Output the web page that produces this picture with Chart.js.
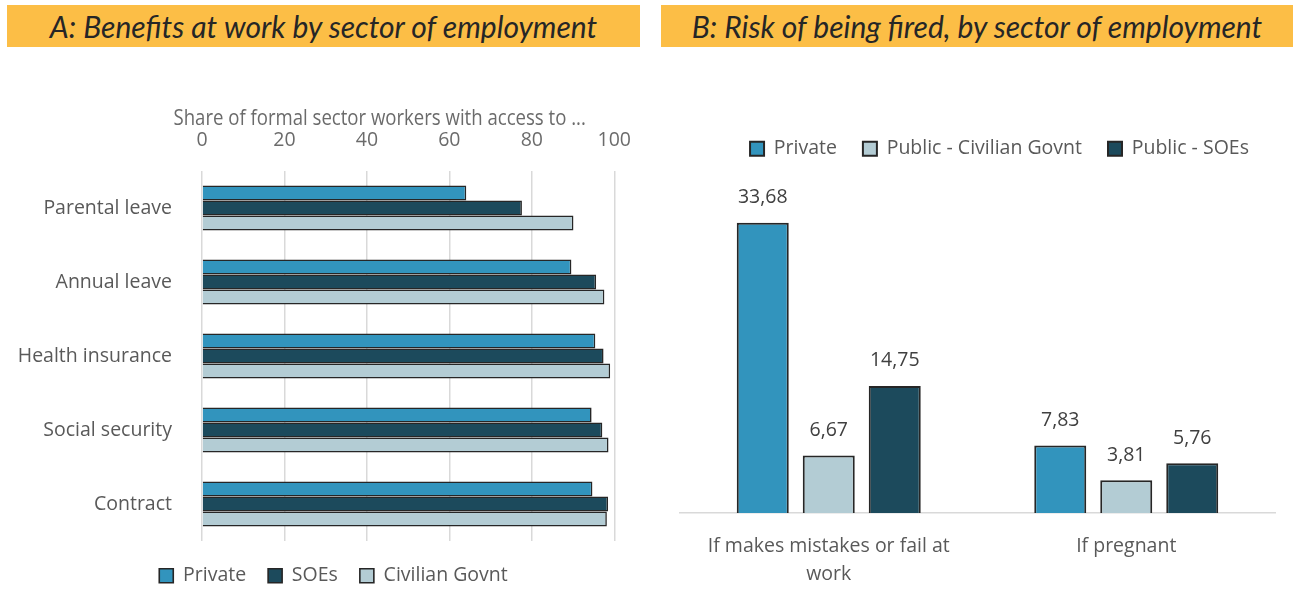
<!DOCTYPE html>
<html>
<head>
<meta charset="utf-8">
<script src="https://cdn.jsdelivr.net/npm/chart.js@4.4.1/dist/chart.umd.min.js"></script>
<style>
  html, body { margin: 0; padding: 0; background: #fff; width: 1293px; height: 595px; overflow: hidden; }
  .title { position: absolute; top: 5px; height: 42px; background: #FCBE46; color: #262626;
           font-family: Lato, "Open Sans", sans-serif; font-style: italic; font-weight: 400; font-size: 30px;
           line-height: 42px; text-align: center; white-space: nowrap; }
  #titleA { left: 7px; width: 633px; }
  #titleB { left: 661px; width: 632px; }
  .panel { position: absolute; top: 60px; }
  #panelA { left: 0; }
  #panelB { left: 660px; }
</style>
</head>
<body>
<div class="title" id="titleA">A: Benefits at work by sector of employment</div>
<div class="title" id="titleB">B: Risk of being fired, by sector of employment</div>
<canvas class="panel" id="panelA" width="650" height="535"></canvas>
<canvas class="panel" id="panelB" width="633" height="535"></canvas>
<script>
// Panel A: share of formal sector workers with access to each benefit
const benefitCategories = ['Parental leave', 'Annual leave', 'Health insurance', 'Social security', 'Contract'];
const benefitPrivate  = [64.1, 89.6, 95.4, 94.5, 94.7];
const benefitSOEs     = [77.6, 95.6, 97.4, 97.1, 98.5];
const benefitCivilian = [90.1, 97.6, 99.0, 98.6, 98.2];
const shareAxisMin = 0;
const shareAxisMax = 100;
const shareAxisStep = 20;

// Panel B: risk of being fired
const riskCategories = [['If makes mistakes or fail at', 'work'], 'If pregnant'];
const riskPrivate  = [33.68, 7.83];
const riskCivilian = [6.67, 3.81];
const riskSOEs     = [14.75, 5.76];

const COL_PRIVATE  = '#3294BD';
const COL_SOES     = '#1C4A5C';
const COL_CIVILIAN = '#B3CCD4';
const EDGE = '#262626';
const FONT = '"Open Sans", "Noto Sans", sans-serif';
const FS = 19.5;

// Fixes legend box height, nudges the legend and
// moves the x-axis title off the plot-area centre
const boxSizer = {
  id: 'boxSizer',
  beforeInit(chart, args, opts) {
    const lg = chart.legend;
    if (lg && opts.legendHeight) {
      const fit = lg.fit;
      lg.fit = function () { fit.call(this); this.height = opts.legendHeight; };
    }
  },
  afterLayout(chart, args, opts) {
    const lg = chart.legend;
    if (lg) {
      const dx = opts.legendShift || 0, dy = opts.legendShiftY || 0;
      lg.left += dx; lg.right += dx;
      lg.top += dy; lg.bottom += dy;
    }
    const sx = chart.scales.x;
    if (opts.xTitleShift && sx && !sx._titleShifted) {
      const drawTitle = sx.drawTitle;
      const d = opts.xTitleShift;
      sx.drawTitle = function () {
        this.left += d; this.right += d;
        drawTitle.call(this);
        this.left -= d; this.right -= d;
      };
      sx._titleShifted = true;
    }
  }
};

// Writes each bar's value above it, with a decimal comma
const valueLabels = {
  id: 'valueLabels',
  afterDatasetsDraw(chart, args, opts) {
    const ctx = chart.ctx;
    ctx.save();
    ctx.font = opts.size + 'px ' + FONT;
    ctx.fillStyle = opts.color;
    ctx.textAlign = 'center';
    ctx.textBaseline = 'middle';
    chart.data.datasets.forEach((ds, di) => {
      chart.getDatasetMeta(di).data.forEach((bar, i) => {
        const txt = ds.data[i].toFixed(2).replace('.', ',');
        ctx.fillText(txt, bar.x, bar.y - opts.offset);
      });
    });
    ctx.restore();
  }
};

new Chart(document.getElementById('panelA'), {
  type: 'bar',
  data: {
    labels: benefitCategories,
    datasets: [
      { label: 'Private', data: benefitPrivate, backgroundColor: COL_PRIVATE, borderColor: EDGE, borderWidth: 1.6 },
      { label: 'SOEs', data: benefitSOEs, backgroundColor: COL_SOES, borderColor: EDGE, borderWidth: 1.6 },
      { label: 'Civilian Govnt', data: benefitCivilian, backgroundColor: COL_CIVILIAN, borderColor: EDGE, borderWidth: 1.6 }
    ]
  },
  options: {
    indexAxis: 'y',
    responsive: false,
    animation: false,
    layout: { padding: { left: 0, right: 35, top: 0, bottom: 0 } },
    datasets: { bar: { categoryPercentage: 0.608, barPercentage: 1 } },
    scales: {
      x: {
        position: 'top',
        min: shareAxisMin, max: shareAxisMax,
        ticks: { stepSize: shareAxisStep, color: '#6b6b6b', font: { family: FONT, size: FS }, padding: 19 },
        grid: { color: '#d9d9d9', lineWidth: 1.5, drawTicks: false },
        border: { display: false },
        title: { display: true, text: 'Share of formal sector workers with access to ...', color: '#6b6b6b',
                 font: { family: FONT, size: 21.5 }, padding: { top: 46, bottom: 0 } },
        afterFit(s) { s.height = 111; }
      },
      y: {
        ticks: { color: '#595959', font: { family: FONT, size: FS }, padding: 22 },
        grid: { display: false },
        border: { display: false },
        afterFit(s) { s.width = 202; }
      }
    },
    plugins: {
      legend: {
        position: 'bottom',
        labels: { boxWidth: 14, boxHeight: 14, padding: 22, color: '#595959', font: { family: FONT, size: FS } }
      },
      tooltip: { enabled: false },
      boxSizer: { legendHeight: 54, legendShift: 26, legendShiftY: 3, xTitleShift: -28.5 }
    }
  },
  plugins: [boxSizer]
});

new Chart(document.getElementById('panelB'), {
  type: 'bar',
  data: {
    labels: riskCategories,
    datasets: [
      { label: 'Private', data: riskPrivate, backgroundColor: COL_PRIVATE, borderColor: EDGE, borderWidth: 2 },
      { label: 'Public - Civilian Govnt', data: riskCivilian, backgroundColor: COL_CIVILIAN, borderColor: EDGE, borderWidth: 2 },
      { label: 'Public - SOEs', data: riskSOEs, backgroundColor: COL_SOES, borderColor: EDGE, borderWidth: 2 }
    ]
  },
  options: {
    responsive: false,
    animation: false,
    layout: { padding: { left: 20, right: 18, top: 53, bottom: 0 } },
    datasets: { bar: { categoryPercentage: 0.6655, barPercentage: 0.788 } },
    scales: {
      x: {
        grid: { display: false },
        border: { display: true, color: '#d9d9d9', width: 1.5 },
        ticks: { color: '#595959', font: { family: FONT, size: FS, lineHeight: 1.45 }, padding: 11, maxRotation: 0 },
        afterFit(s) { s.height = 82; }
      },
      y: { display: false, min: 0, max: 40 }
    },
    plugins: {
      legend: {
        position: 'top',
        labels: { boxWidth: 14, boxHeight: 14, padding: 26, color: '#595959', font: { family: FONT, size: FS } }
      },
      tooltip: { enabled: false },
      boxSizer: { legendHeight: 55.3, legendShift: 22 },
      valueLabels: { size: FS, color: '#404040', offset: 25 }
    }
  },
  plugins: [boxSizer, valueLabels]
});
</script>
</body>
</html>
